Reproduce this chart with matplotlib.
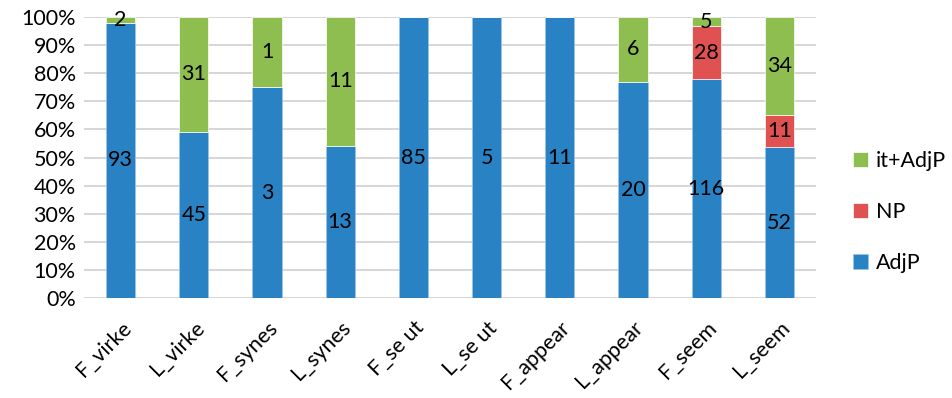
import matplotlib
matplotlib.use("Agg")
import matplotlib.pyplot as plt
import numpy as np

categories = ["F_virke", "L_virke", "F_synes", "L_synes", "F_se ut", "L_se ut",
              "F_appear", "L_appear", "F_seem", "L_seem"]
adjp = [93, 45, 3, 13, 85, 5, 11, 20, 116, 52]
np_vals = [0, 0, 0, 0, 0, 0, 0, 0, 28, 11]
it_adjp = [2, 31, 1, 11, 0, 0, 0, 6, 5, 34]
yticks = [0, 10, 20, 30, 40, 50, 60, 70, 80, 90, 100]

plt.rcParams['font.family'] = ['Lato', 'DejaVu Sans']

colors = {"AdjP": "#2882C4", "NP": "#E05252", "it+AdjP": "#8EBE50"}
FS = 15.5

fig = plt.figure(figsize=(9.52, 3.98), dpi=100)
ax = fig.add_axes([84/952, 1-298/398, (816-84)/952, (298-17)/398])

x = np.arange(len(categories))
totals = np.array(adjp) + np.array(np_vals) + np.array(it_adjp)
series = [("AdjP", np.array(adjp)), ("NP", np.array(np_vals)), ("it+AdjP", np.array(it_adjp))]
bottom = np.zeros(len(categories))
handles = {}
for name, vals in series:
    pct = vals / totals * 100
    bars = ax.bar(x, pct, width=0.4, bottom=bottom, color=colors[name],
                  edgecolor="#9CC3E6" if name == "AdjP" else "white", linewidth=0.5,
                  label=name, zorder=3)
    handles[name] = bars
    for xi, b, p, v in zip(x, bottom, pct, vals):
        if v > 0:
            ax.text(xi, b + p / 2, str(v), ha="center", va="center",
                    fontsize=FS, color="black", zorder=4)
    bottom = bottom + pct

ax.set_xlim(-0.5, len(categories) - 0.5)
ax.set_ylim(0, 100)
ax.set_yticks(yticks)
ax.set_yticklabels([f"{t}%" for t in yticks], fontsize=FS)
ax.set_xticks(x)
ax.set_xticklabels(categories, rotation=45, ha="right", rotation_mode="anchor", fontsize=FS)
ax.tick_params(axis="y", length=0, pad=6)
ax.tick_params(axis="x", length=0, pad=14)
ax.grid(axis="y", color="#D0D0D0", linewidth=1.2, zorder=0)
for s in ax.spines.values():
    s.set_visible(False)

leg = fig.legend([handles["it+AdjP"], handles["NP"], handles["AdjP"]],
                 ["it+AdjP", "NP", "AdjP"], loc="center left",
                 bbox_to_anchor=(853/952, 1 - 212/398), frameon=False,
                 fontsize=FS, handlelength=0.7, handleheight=0.7,
                 labelspacing=1.45, handletextpad=0.35, borderpad=0, borderaxespad=0)

fig.savefig("out.png", dpi=100)
